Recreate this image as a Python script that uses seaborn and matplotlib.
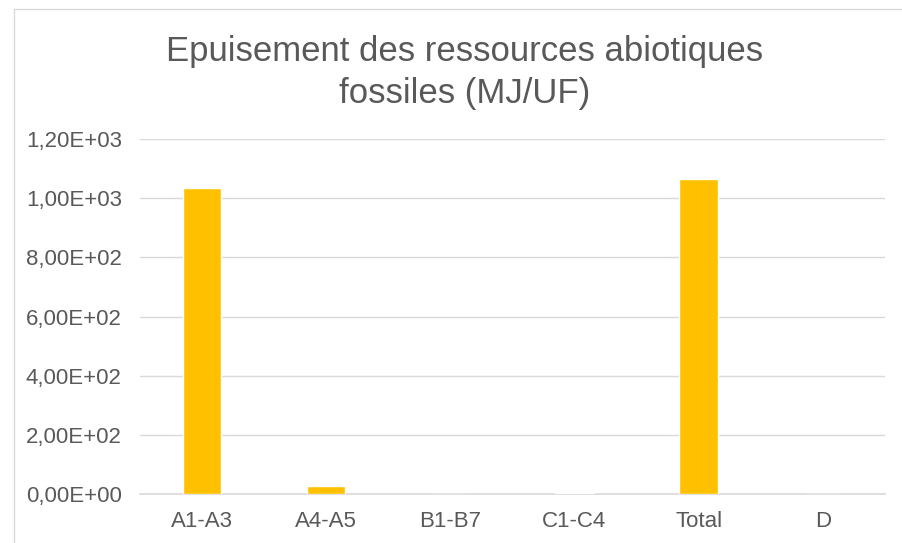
import matplotlib
matplotlib.use("Agg")
import matplotlib.pyplot as plt
import seaborn as sns
import pandas as pd
from matplotlib.ticker import FuncFormatter, MultipleLocator
from matplotlib.patches import Rectangle

# values (MJ/UF)
stages = ["A1-A3", "A4-A5", "B1-B7", "C1-C4", "Total", "D"]
values = [1034, 27, 0, 3, 1065, 0]

df = pd.DataFrame({"stage": stages, "value": values})

sns.set_style("white")
plt.rcParams["font.family"] = ["Liberation Sans", "DejaVu Sans"]

text_col = "#595959"
fig = plt.figure(figsize=(9.02, 5.43), dpi=100)
ax = fig.add_axes([0.155, 0.090, 0.826, 0.654])

sns.barplot(data=df, x="stage", y="value", color="#FFC000", width=0.31,
            saturation=1, ax=ax, zorder=3)

ax.set_ylim(0, 1200)
ax.yaxis.set_major_locator(MultipleLocator(200))
ax.yaxis.set_major_formatter(FuncFormatter(lambda v, p: f"{v:.2E}".replace(".", ",")))
ax.grid(axis="y", color="#D9D9D9", linewidth=1, zorder=0)
ax.set_axisbelow(True)
for s in ["top", "right", "left"]:
    ax.spines[s].set_visible(False)
ax.spines["bottom"].set_color("#D9D9D9")
ax.spines["bottom"].set_linewidth(1.2)
ax.set_xlabel("")
ax.set_ylabel("")
ax.tick_params(axis="both", length=0, labelsize=16, colors=text_col)
ax.tick_params(axis="y", pad=13)
ax.tick_params(axis="x", pad=12)

fig.text(0.515, 0.866, "Epuisement des ressources abiotiques\nfossiles (MJ/UF)",
         ha="center", va="center", fontsize=25, color=text_col, linespacing=1.35)

# outer chart border
fig.patches.append(Rectangle((0.0155, -0.01), 1.0, 0.993, transform=fig.transFigure,
                             fill=False, edgecolor="#D9D9D9", linewidth=1))

fig.savefig("out.png", dpi=100)
